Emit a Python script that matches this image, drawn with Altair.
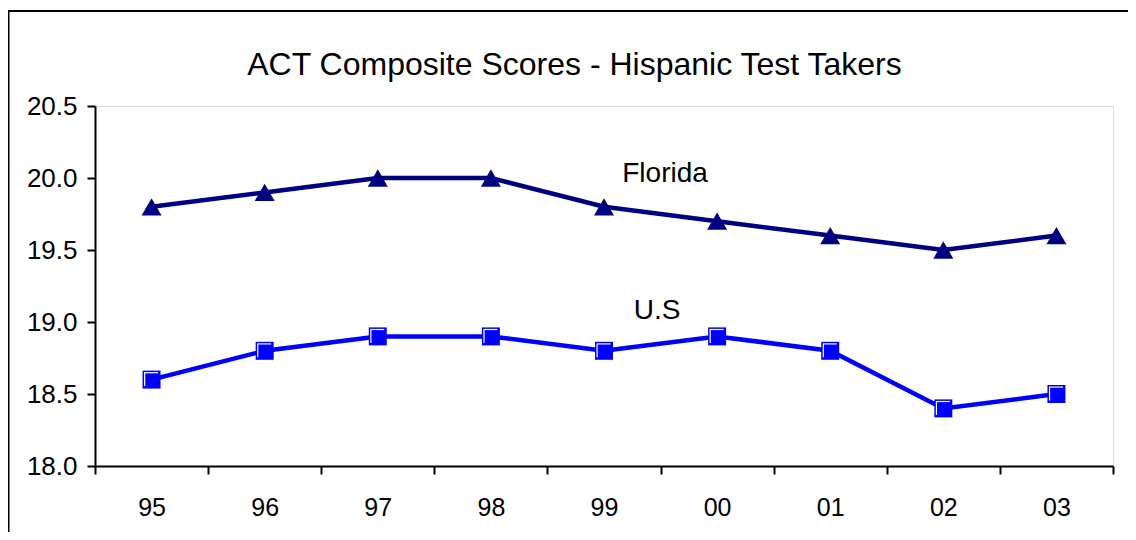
import altair as alt
import pandas as pd

years = ["95", "96", "97", "98", "99", "00", "01", "02", "03"]
florida = [19.8, 19.9, 20.0, 20.0, 19.8, 19.7, 19.6, 19.5, 19.6]
us = [18.6, 18.8, 18.9, 18.9, 18.8, 18.9, 18.8, 18.4, 18.5]

title_text = ["ACT Composite Scores - Hispanic Test Takers"]

label_text = ["Florida", "U.S"]
label_year = ["00", "00"]
label_value = [20.025, 19.075]
label_dx = [4.5, -3.5]

df_fl = pd.DataFrame({"year": years, "value": florida})
df_us = pd.DataFrame({"year": years, "value": us})
df_lab = pd.DataFrame({"text": label_text, "year": label_year, "value": label_value, "dx": label_dx})
df_title = pd.DataFrame({"text": title_text})

FONT = "Liberation Sans"
W, H = 1018, 360

xenc = alt.X("year:N", sort=years, title=None,
             scale=alt.Scale(paddingInner=0, paddingOuter=0),
             axis=alt.Axis(tickBand="extent", labelAngle=0, labelFontSize=25, labelFont=FONT,
                           labelColor="black", tickSize=8, tickColor="black", tickWidth=2,
                           domainColor="black", domainWidth=2, labelPadding=21, grid=False))
yenc = alt.Y("value:Q", title=None,
             scale=alt.Scale(domain=[18.0, 20.5], nice=False, zero=False),
             axis=alt.Axis(values=[18.0, 18.5, 19.0, 19.5, 20.0, 20.5], format=".1f",
                           labelFontSize=26, labelFont=FONT, labelColor="black",
                           tickSize=8, tickColor="black", tickWidth=2,
                           domainColor="black", domainWidth=2, labelPadding=10, grid=False))

frame = alt.Chart(pd.DataFrame({"a": [0]})).mark_rect(
    fill=None, stroke="black", strokeWidth=2
).encode(x=alt.value(-86.5), x2=alt.value(W + 200), y=alt.value(-95), y2=alt.value(H + 300))

title = alt.Chart(df_title).mark_text(font=FONT, fontSize=32, color="black",
                                       align="center", baseline="alphabetic").encode(
    x=alt.value(479.5), y=alt.value(-31), text="text:N")

fl_line = alt.Chart(df_fl).mark_line(color="#000080", strokeWidth=4.5).encode(x=xenc, y=yenc)
fl_pts = alt.Chart(df_fl).mark_point(shape="triangle-up", filled=True, color="#000080",
                                      size=400, opacity=1).encode(x=xenc, y=yenc)

us_line = alt.Chart(df_us).mark_line(color="#0000FF", strokeWidth=4.5).encode(x=xenc, y=yenc)
us_pts = alt.Chart(df_us).mark_point(shape="square", filled=True, color="#0000FF",
                                      size=324, opacity=1).encode(x=xenc, y=yenc)
us_hi = alt.Chart(df_us).mark_point(shape="square", filled=True, color="white",
                                     size=196, opacity=1, xOffset=-0.5, yOffset=-0.5).encode(x=xenc, y=yenc)
us_in = alt.Chart(df_us).mark_point(shape="square", filled=True, color="#0000FF",
                                     size=196, opacity=1, xOffset=0.7, yOffset=0.7).encode(x=xenc, y=yenc)

labels = alt.Chart(df_lab).mark_text(font=FONT, fontSize=28, color="black",
                                      baseline="middle", align="center").encode(
    x=alt.X("year:N", sort=years),
    y=alt.Y("value:Q"),
    text="text:N",
    xOffset=alt.XOffset("dx:Q", scale=None),
)

chart = alt.layer(frame, title, fl_line, us_line, fl_pts, us_pts, us_hi, us_in, labels).properties(
    width=W, height=H,
    autosize=alt.AutoSizeParams(type="none"),
    padding={"left": 87, "top": 98, "right": 15, "bottom": 66},
).configure_view(stroke="#808080", strokeWidth=2).configure(background="white")

chart.save("out.html", embed_options={"renderer": "svg", "actions": False})
